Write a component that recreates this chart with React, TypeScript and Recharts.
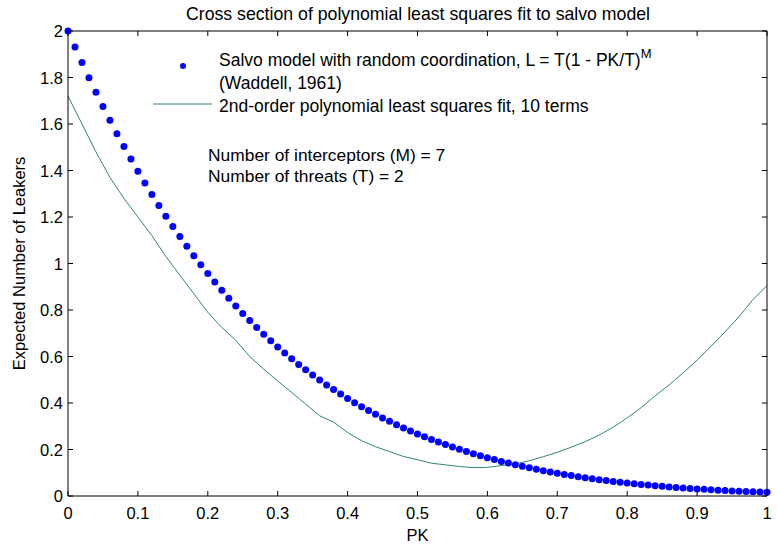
import React from "react"
import { ComposedChart, Scatter, Line, XAxis, YAxis, ReferenceLine } from "recharts"

// salvo model points, one every 0.01 of PK
const pkValues = [
    0, 0.01, 0.02, 0.03, 0.04, 0.05, 0.06, 0.07, 0.08, 0.09,
    0.1, 0.11, 0.12, 0.13, 0.14, 0.15, 0.16, 0.17, 0.18, 0.19,
    0.2, 0.21, 0.22, 0.23, 0.24, 0.25, 0.26, 0.27, 0.28, 0.29,
    0.3, 0.31, 0.32, 0.33, 0.34, 0.35, 0.36, 0.37, 0.38, 0.39,
    0.4, 0.41, 0.42, 0.43, 0.44, 0.45, 0.46, 0.47, 0.48, 0.49,
    0.5, 0.51, 0.52, 0.53, 0.54, 0.55, 0.56, 0.57, 0.58, 0.59,
    0.6, 0.61, 0.62, 0.63, 0.64, 0.65, 0.66, 0.67, 0.68, 0.69,
    0.7, 0.71, 0.72, 0.73, 0.74, 0.75, 0.76, 0.77, 0.78, 0.79,
    0.8, 0.81, 0.82, 0.83, 0.84, 0.85, 0.86, 0.87, 0.88, 0.89,
    0.9, 0.91, 0.92, 0.93, 0.94, 0.95, 0.96, 0.97, 0.98, 0.99,
    1
]

const salvoLeakers = [
    2.0, 1.931, 1.8641, 1.7992, 1.7363, 1.6752, 1.616, 1.5586, 1.5029, 1.449,
    1.3967, 1.346, 1.297, 1.2494, 1.2034, 1.1588, 1.1157, 1.0739, 1.0335, 0.9944,
    0.9566, 0.92, 0.8846, 0.8504, 0.8174, 0.7854, 0.7545, 0.7247, 0.6959, 0.668,
    0.6412, 0.6152, 0.5902, 0.566, 0.5427, 0.5203, 0.4986, 0.4777, 0.4576, 0.4382,
    0.4194, 0.4014, 0.3841, 0.3674, 0.3513, 0.3359, 0.321, 0.3067, 0.2929, 0.2797,
    0.267, 0.2548, 0.243, 0.2318, 0.221, 0.2106, 0.2006, 0.1911, 0.1819, 0.1731,
    0.1647, 0.1567, 0.1489, 0.1415, 0.1345, 0.1277, 0.1212, 0.115, 0.1091, 0.1034,
    0.098, 0.0929, 0.088, 0.0833, 0.0788, 0.0745, 0.0704, 0.0666, 0.0629, 0.0593,
    0.056, 0.0528, 0.0498, 0.0469, 0.0442, 0.0416, 0.0391, 0.0368, 0.0345, 0.0324,
    0.0304, 0.0286, 0.0268, 0.0251, 0.0235, 0.022, 0.0206, 0.0192, 0.0179, 0.0168,
    0.0156
]

// least squares fit curve
const fitPk = [
    0, 0.02, 0.04, 0.06, 0.08, 0.1, 0.12, 0.14, 0.16, 0.18,
    0.2, 0.22, 0.24, 0.26, 0.28, 0.3, 0.32, 0.34, 0.36, 0.38,
    0.4, 0.42, 0.44, 0.46, 0.48, 0.5, 0.52, 0.54, 0.56, 0.58,
    0.6, 0.62, 0.64, 0.66, 0.68, 0.7, 0.72, 0.74, 0.76, 0.78,
    0.8, 0.82, 0.84, 0.86, 0.88, 0.9, 0.92, 0.94, 0.96, 0.98,
    1
]

const fitLeakers = [
    1.72, 1.6, 1.48, 1.37, 1.28, 1.2, 1.12, 1.03, 0.95, 0.87,
    0.79, 0.725, 0.67, 0.6, 0.545, 0.495, 0.445, 0.395, 0.345, 0.318,
    0.273, 0.238, 0.212, 0.191, 0.17, 0.156, 0.141, 0.134, 0.127, 0.122,
    0.123, 0.131, 0.138, 0.152, 0.169, 0.188, 0.21, 0.234, 0.262, 0.296,
    0.336, 0.38, 0.431, 0.478, 0.53, 0.584, 0.644, 0.706, 0.771, 0.845,
    0.905
]

const xTicks = [0, 0.1, 0.2, 0.3, 0.4, 0.5, 0.6, 0.7, 0.8, 0.9, 1]
const yTicks = [0, 0.2, 0.4, 0.6, 0.8, 1, 1.2, 1.4, 1.6, 1.8, 2]

const FONT = '"Liberation Sans", Arial, sans-serif'
const BLUE = "#0000ff"
const GREEN = "#2f8a60"
const TICK_LEN = 5
// same inward tick length in data units, for the top and right sides
const X_TICK_LEN = 0.0215
const Y_TICK_LEN = 0.0072

const salvoData = pkValues.map((pk, i) => ({ pk, leakers: salvoLeakers[i] }))
const fitData = fitPk.map((pk, i) => ({ pk, leakers: fitLeakers[i] }))

const BottomTick = (props: any) => {
    const { x, y, payload } = props
    return (
        <g>
            <line x1={x} y1={y} x2={x} y2={y - TICK_LEN} stroke="#000" strokeWidth={1} />
            <text x={x} y={y + 23} textAnchor="middle" fontSize={16.5} fontFamily={FONT} fill="#000">
                {String(payload.value)}
            </text>
        </g>
    )
}

const LeftTick = (props: any) => {
    const { x, y, payload } = props
    return (
        <g>
            <line x1={x} y1={y} x2={x + TICK_LEN} y2={y} stroke="#000" strokeWidth={1} />
            <text x={x - 5} y={y + 6} textAnchor="end" fontSize={16.5} fontFamily={FONT} fill="#000">
                {String(payload.value)}
            </text>
        </g>
    )
}

const XLabel = (props: any) => {
    const { viewBox } = props
    if (!viewBox) return null
    return (
        <text x={viewBox.x + viewBox.width / 2} y={viewBox.y + 45} textAnchor="middle" fontSize={16.5} fontFamily={FONT} fill="#000">
            PK
        </text>
    )
}

const YLabel = (props: any) => {
    const { viewBox } = props
    if (!viewBox) return null
    const cx = viewBox.x + 25
    const cy = viewBox.y + viewBox.height / 2
    return (
        <text x={cx} y={cy} textAnchor="middle" fontSize={16.5} fontFamily={FONT} fill="#000" transform={`rotate(-90 ${cx} ${cy})`}>
            Expected Number of Leakers
        </text>
    )
}

const Dot = (props: any) => {
    const { cx, cy } = props
    return <circle cx={cx} cy={cy} r={3.5} fill={BLUE} />
}

const boxLine = { xAxisId: "pk", yAxisId: "left", stroke: "#000", strokeWidth: 1, ifOverflow: "visible" as const }

export default function App() {
    return (
        <div style={{ position: "absolute", left: 0, top: 0, width: 777, height: 548 }}>
            <ComposedChart width={777} height={548} margin={{ top: 31, right: 10, bottom: 0, left: 0 }}>
                <XAxis
                    xAxisId="pk"
                    dataKey="pk"
                    type="number"
                    domain={[0, 1]}
                    ticks={xTicks}
                    height={52}
                    tickSize={0}
                    tickMargin={0}
                    tick={BottomTick}
                    axisLine={{ stroke: "#000", strokeWidth: 1 }}
                    interval={0}
                    label={<XLabel />}
                />
                <YAxis
                    yAxisId="left"
                    type="number"
                    domain={[0, 2]}
                    ticks={yTicks}
                    width={68}
                    tickSize={0}
                    tickMargin={0}
                    tick={LeftTick}
                    axisLine={{ stroke: "#000", strokeWidth: 1 }}
                    interval={0}
                    label={<YLabel />}
                />
                <Line
                    xAxisId="pk"
                    yAxisId="left"
                    data={fitData}
                    dataKey="leakers"
                    type="linear"
                    stroke={GREEN}
                    strokeWidth={1}
                    dot={false}
                    isAnimationActive={false}
                />
                <Scatter
                    xAxisId="pk"
                    yAxisId="left"
                    data={salvoData}
                    dataKey="leakers"
                    shape={Dot}
                    isAnimationActive={false}
                />

                {/* top and right sides of the MATLAB box, with inward ticks */}
                <ReferenceLine {...boxLine} y={2} />
                <ReferenceLine {...boxLine} x={1} />
                {xTicks.map(t => (
                    <ReferenceLine key={`xt-${t}`} {...boxLine} segment={[{ x: t, y: 2 }, { x: t, y: 2 - X_TICK_LEN }]} />
                ))}
                {yTicks.map(t => (
                    <ReferenceLine key={`yr-${t}`} {...boxLine} segment={[{ x: 1, y: t }, { x: 1 - Y_TICK_LEN, y: t }]} />
                ))}
            </ComposedChart>
            <svg
                width={777}
                height={195}
                style={{ position: "absolute", left: 0, top: 0, pointerEvents: "none" }}
                fontFamily={FONT}
            >
                <text x={418} y={20} textAnchor="middle" fontSize={17.7} fill="#000">
                    Cross section of polynomial least squares fit to salvo model
                </text>

                <circle cx={183} cy={66} r={3} fill={BLUE} />
                <text x={219} y={66} fontSize={17.5} fill="#000">
                    Salvo model with random coordination, L = T(1 - PK/T)
                    <tspan dy={-8} fontSize={13}>M</tspan>
                </text>
                <text x={219} y={89} fontSize={17.5} fill="#000">
                    (Waddell, 1961)
                </text>
                <line x1={153} y1={104} x2={212} y2={104} stroke={GREEN} strokeWidth={1} />
                <text x={219} y={112} fontSize={17.5} fill="#000">
                    2nd-order polynomial least squares fit, 10 terms
                </text>

                <text x={208} y={161} fontSize={17.4} fill="#000">
                    Number of interceptors (M) = 7
                </text>
                <text x={208} y={182} fontSize={17.4} fill="#000">
                    Number of threats (T) = 2
                </text>
            </svg>
        </div>
    )
}
